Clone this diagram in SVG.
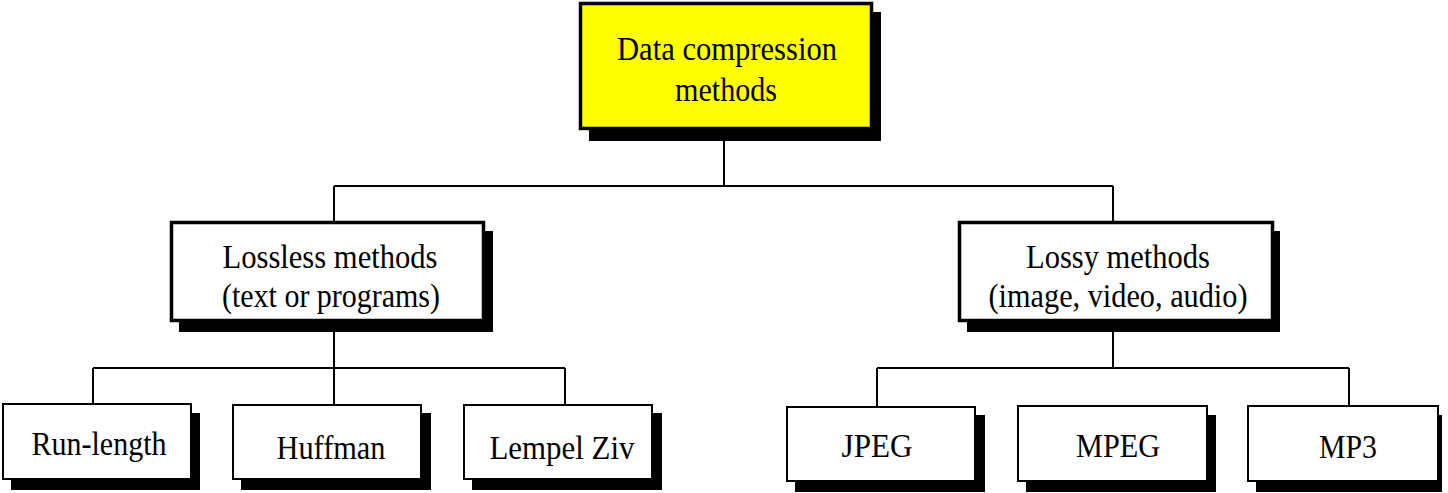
<svg xmlns="http://www.w3.org/2000/svg" width="1448" height="493" viewBox="0 0 1448 493">
<style>
.box{fill:#fff;stroke:#000;stroke-width:2}
.mid{fill:#fff;stroke:#000;stroke-width:3.5}
.top{fill:#ffff00;stroke:#000;stroke-width:3.5}
.sh{fill:#000}
.t{font-family:"Liberation Serif","Times New Roman",serif;font-size:33px;fill:#000;text-anchor:middle}
.c{fill:none;stroke:#000;stroke-width:2}
</style>
<g id="connectors">
<path class="c" d="M724,130V186M334,186H1113M334,186V221M1113,186V221"/>
<path class="c" d="M334,322V368M93,368H565M93,368V404M334,368V404M565,368V404"/>
<path class="c" d="M1113,322V368M877,368H1349M877,368V406M1349,368V406"/>
</g>
<g id="n-root">
<rect class="sh" x="589" y="12" width="292" height="129"/>
<rect class="top" x="580.5" y="3.5" width="291" height="125"/>
<text class="t" x="727" y="60" textLength="220" lengthAdjust="spacingAndGlyphs">Data compression</text>
<text class="t" x="726" y="101" textLength="102" lengthAdjust="spacingAndGlyphs">methods</text>
</g>
<g id="n-lossless">
<rect class="sh" x="179" y="231" width="314" height="101"/>
<rect class="mid" x="171.5" y="222.5" width="312" height="98"/>
<text class="t" x="330" y="268" textLength="215" lengthAdjust="spacingAndGlyphs">Lossless methods</text>
<text class="t" x="331" y="307" textLength="218" lengthAdjust="spacingAndGlyphs">(text or programs)</text>
</g>
<g id="n-lossy">
<rect class="sh" x="967" y="231" width="313" height="101"/>
<rect class="mid" x="959.5" y="222.5" width="313" height="98"/>
<text class="t" x="1118" y="268" textLength="184" lengthAdjust="spacingAndGlyphs">Lossy methods</text>
<text class="t" x="1118" y="307" textLength="259" lengthAdjust="spacingAndGlyphs">(image, video, audio)</text>
</g>
<g id="n-runlength">
<rect class="sh" x="11" y="413" width="189" height="77"/>
<rect class="box" x="3" y="404" width="188" height="75"/>
<text class="t" x="99" y="455" textLength="135" lengthAdjust="spacingAndGlyphs">Run-length</text>
</g>
<g id="n-huffman">
<rect class="sh" x="241" y="413" width="190" height="77"/>
<rect class="box" x="233" y="405" width="188" height="74"/>
<text class="t" x="331" y="459" textLength="109" lengthAdjust="spacingAndGlyphs">Huffman</text>
</g>
<g id="n-lempelziv">
<rect class="sh" x="472" y="413" width="190" height="77"/>
<rect class="box" x="464" y="405" width="188" height="74"/>
<text class="t" x="562" y="459" textLength="145" lengthAdjust="spacingAndGlyphs">Lempel Ziv</text>
</g>
<g id="n-jpeg">
<rect class="sh" x="795" y="415" width="190" height="77"/>
<rect class="box" x="787" y="407" width="188" height="74"/>
<text class="t" x="877" y="457" textLength="71" lengthAdjust="spacingAndGlyphs">JPEG</text>
</g>
<g id="n-mpeg">
<rect class="sh" x="1026" y="415" width="190" height="77"/>
<rect class="box" x="1018" y="406" width="189" height="75"/>
<text class="t" x="1118" y="457" textLength="84" lengthAdjust="spacingAndGlyphs">MPEG</text>
</g>
<g id="n-mp3">
<rect class="sh" x="1256" y="415" width="186" height="77"/>
<rect class="box" x="1248" y="406" width="190" height="75"/>
<text class="t" x="1348" y="458" textLength="58" lengthAdjust="spacingAndGlyphs">MP3</text>
</g>
</svg>
